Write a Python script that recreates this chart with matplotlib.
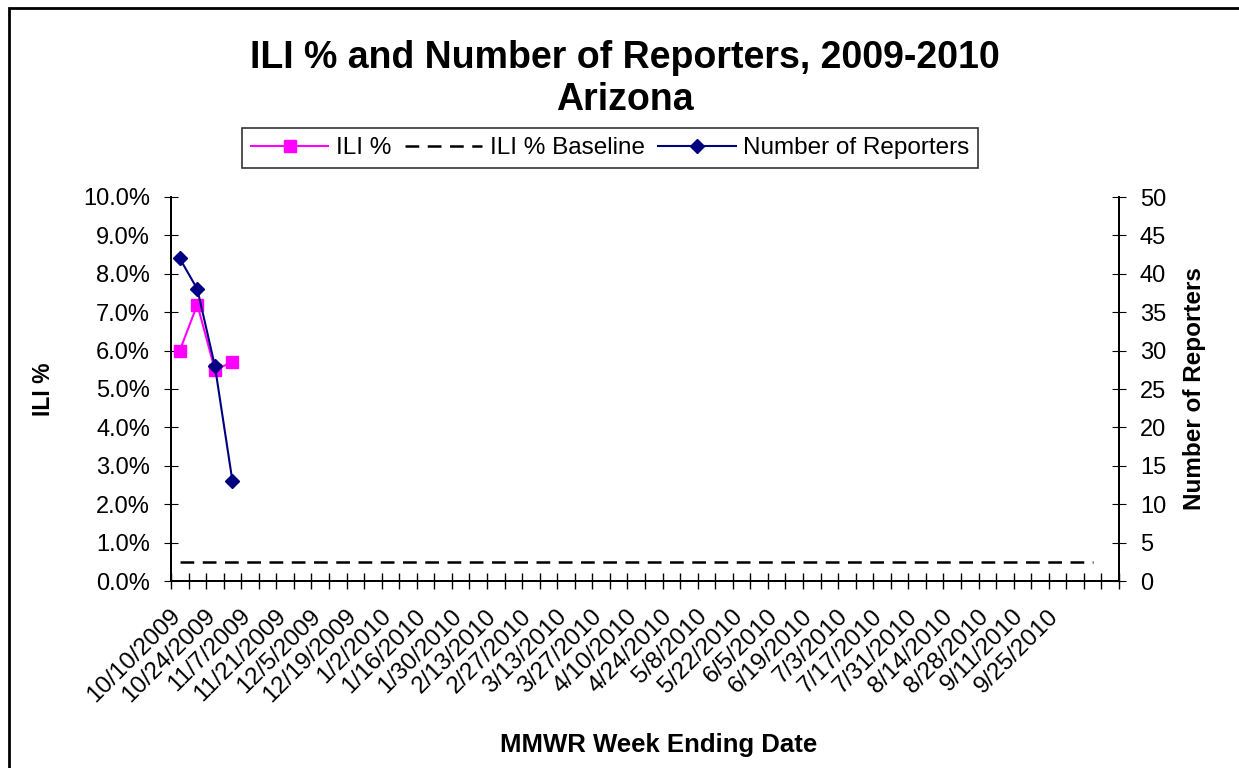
import datetime as dt
import numpy as np
import matplotlib.pyplot as plt
from matplotlib.patches import Rectangle
from matplotlib.ticker import FuncFormatter, MultipleLocator

plt.rcParams['font.family'] = ['Liberation Sans', 'DejaVu Sans']

# weekly categories, 10/10/2009 onward (54 slots on the axis)
start = dt.date(2009, 10, 10)
weeks = [start + dt.timedelta(weeks=i) for i in range(54)]
week_labels = [f'{d.month}/{d.day}/{d.year}' if i % 2 == 0 and i <= 50 else '' for i, d in enumerate(weeks)]

ili_pct = [6.0, 7.2, 5.5, 5.7]
reporters = [42, 38, 28, 13]
baseline_pct = [0.5] * 53

fig = plt.figure(figsize=(12.39, 7.68), dpi=100)
fig.patches.append(Rectangle((9 / 1239, -0.1), 1.2, 1 - 8 / 768 + 0.1, transform=fig.transFigure,
                             fill=False, edgecolor='black', linewidth=2))

ax = fig.add_axes([171 / 1239, 1 - 581 / 768, (1119 - 171) / 1239, (581 - 197) / 768])
ax2 = ax.twinx()

x = np.arange(len(weeks))
l1, = ax.plot(x[:len(ili_pct)], ili_pct, color='#ff00ff', marker='s', markersize=8.5, linewidth=1.5,
              label='ILI %')
l2, = ax.plot(x[:len(baseline_pct)], baseline_pct, color='black', linestyle=(0, (5.5, 3.4)), linewidth=1.8,
              label='ILI % Baseline')
l3, = ax2.plot(x[:len(reporters)], reporters, color='#000080', marker='D', markersize=7, linewidth=1.5,
               label='Number of Reporters')

ax.set_xlim(-0.5, len(weeks) - 0.5)
ax.set_ylim(0, 10)
ax2.set_ylim(0, 50)
ax.yaxis.set_major_locator(MultipleLocator(1))
ax.yaxis.set_major_formatter(FuncFormatter(lambda v, p: f'{v:.1f}%'))
ax2.yaxis.set_major_locator(MultipleLocator(5))

ax.set_xticks(x - 0.15)
ax.set_xticklabels(week_labels, rotation=45, ha='right', va='center', rotation_mode='anchor', fontsize=17.5)
ax.set_xticks(np.arange(len(weeks) + 1) - 0.5, minor=True)
ax.tick_params(axis='x', which='major', length=0, pad=23)
ax.tick_params(axis='x', which='minor', direction='inout', length=11, width=1)
ax.tick_params(axis='y', direction='inout', length=10, labelsize=17, pad=10)
ax2.tick_params(axis='y', direction='inout', length=10, labelsize=17, pad=10)

for a in (ax, ax2):
    a.spines['top'].set_visible(False)
    for s in a.spines.values():
        s.set_linewidth(1.3)

ax.set_ylabel('ILI %', fontsize=16.5, fontweight='bold', labelpad=20)
ax2.set_ylabel('Number of Reporters', fontsize=17.5, fontweight='bold', labelpad=12)
ax.set_xlabel('MMWR Week Ending Date', fontsize=18.5, fontweight='bold')
ax.xaxis.set_label_coords((659 - 171) / (1119 - 171), -(745 - 581) / (581 - 197))
ax.xaxis.label.set_va('center')

fig.text(0.504, 1 - 40 / 768, 'ILI % and Number of Reporters, 2009-2010\nArizona', ha='center', va='top',
         fontsize=27, fontweight='bold', linespacing=1.2)

leg = fig.legend(handles=[l1, l2, l3], loc='center', bbox_to_anchor=(610 / 1239, 1 - 148 / 768), ncol=3,
                 fontsize=17.5, frameon=True, fancybox=False, edgecolor='black', handlelength=3.2,
                 columnspacing=0.55, handletextpad=0.3, borderpad=0.35, borderaxespad=0)
leg.get_frame().set_linewidth(1.2)

fig.savefig('out.png', dpi=100)
